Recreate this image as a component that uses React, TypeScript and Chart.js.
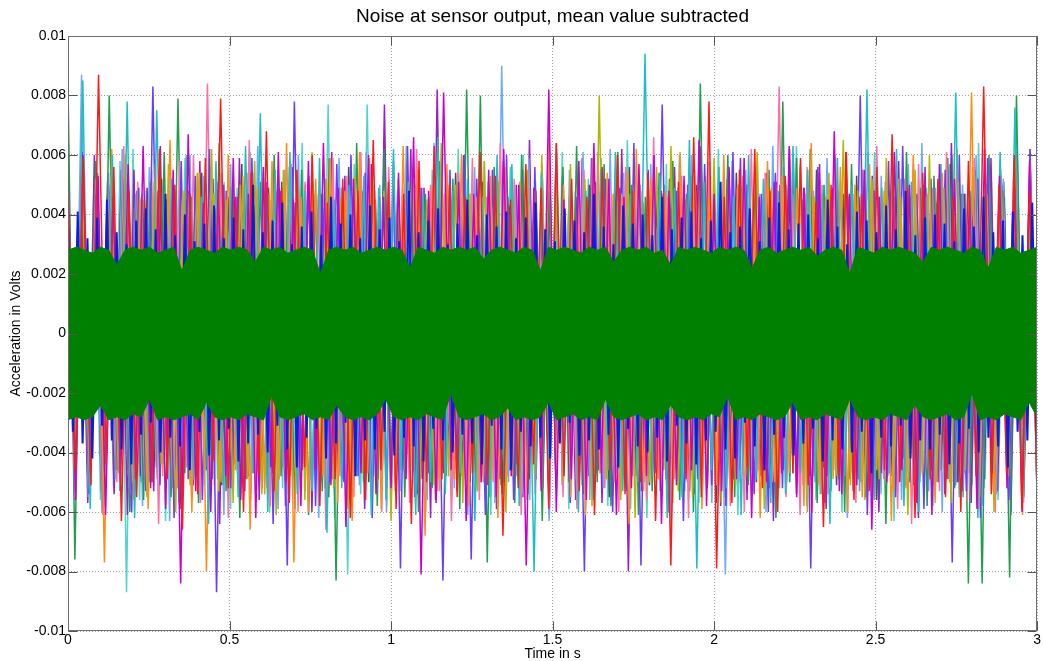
import { useEffect, useRef } from "react";
import { Chart, registerables } from "chart.js";

Chart.register(...registerables);

const TITLE = "Noise at sensor output, mean value subtracted";
const X_LABEL = "Time in s";
const Y_LABEL = "Acceleration in Volts";

const DURATION_S = 3;
const X_TICKS = [0, 0.5, 1, 1.5, 2, 2.5, 3];
const Y_TICKS = [-0.01, -0.008, -0.006, -0.004, -0.002, 0, 0.002, 0.004, 0.006, 0.008, 0.01];

// Noisier sensors: successive sample excursions in millivolts, evenly spaced over the record.
const SENSOR_RED_MV = [
  5.2, -4.6, 5.9, -5.1, 8.7, -4.4, 5.6, -6.3, 4.8, -5.5,
  4.5, -5.0, 6.2, -4.9, 5.0, -6.6, 4.7, -5.4, 5.9, -4.3,
  7.9, -5.2, 4.6, -6.0, 5.4, -4.8, 6.8, -5.3, 4.9, -5.7,
  5.5, -4.5, 6.0, -5.8, 4.4, -4.9, 5.2, -6.2, 4.8, -5.6,
  6.5, -4.6, 5.1, -5.9, 4.7, -6.4, 5.8, -5.0, 6.3, -4.9,
  5.0, -5.5, 4.6, -4.7, 6.1, -5.1, 5.3, -6.8, 4.5, -5.2,
  5.7, -4.4, 4.9, -5.9, 6.4, -4.8, 5.2, -5.3, 4.6, -6.1,
  5.6, -4.6, 6.0, -5.4, 4.8, -5.0, 5.4, -6.3, 4.7, -7.8,
  5.1, -4.9, 6.6, -5.5, 7.8, -7.9, 4.6, -5.7, 5.5, -4.5,
  6.2, -5.2, 4.8, -6.0, 5.3, -4.7, 5.9, -5.1, 4.4, -6.5,
  5.0, -4.8, 6.1, -5.6, 4.7, -5.3, 5.6, -4.6, 6.7, -5.0,
  4.9, -6.2, 5.4, -4.9, 5.2, -5.5, 4.6, -6.0, 5.8, -4.8,
  8.3, -5.4, 5.0, -4.7, 6.0, -5.9, 4.8, -5.2,
];
const SENSOR_MAGENTA_MV = [
  4.9, -5.6, 6.0, -4.7, 5.3, -6.1, 4.6, -5.0, 5.7, -4.9,
  6.3, -5.2, 4.8, -5.9, 5.5, -8.4, 6.7, -5.3, 4.4, -6.0,
  5.1, -4.8, 5.9, -5.6, 4.7, -6.2, 5.6, -4.5, 6.1, -5.0,
  4.5, -5.8, 5.8, -4.6, 6.4, -5.1, 4.9, -6.5, 5.2, -4.7,
  6.0, -5.4, 4.6, -5.2, 5.4, -4.9, 6.6, -8.1, 4.8, -5.7,
  8.1, -4.6, 5.1, -6.3, 4.7, -5.0, 5.5, -5.5, 6.2, -4.8,
  5.0, -7.8, 4.9, -5.3, 8.2, -6.0, 4.5, -4.9, 5.8, -5.6,
  6.4, -4.7, 5.2, -6.1, 4.6, -5.2, 5.7, -4.8, 6.0, -6.4,
  4.8, -5.1, 5.3, -4.6, 6.5, -5.8, 4.7, -5.3, 5.6, -4.9,
  5.9, -6.2, 4.6, -5.0, 5.1, -4.7, 6.3, -5.5, 4.9, -6.0,
  5.4, -4.8, 6.8, -5.4, 4.7, -5.1, 5.5, -6.6, 4.6, -5.0,
  6.1, -4.6, 5.0, -5.7, 4.8, -6.1, 5.7, -4.9, 5.2, -5.3,
  4.7, -5.9, 6.2, -4.7, 5.3, -5.2, 4.9, -6.0, 5.8, -4.8,
];
const SENSOR_CYAN_MV = [
  5.1, -4.8, 8.5, -5.9, 5.4, -4.6, 6.0, -5.3, 7.8, -6.2,
  4.7, -5.0, 7.5, -4.4, 5.2, -5.7, 6.0, -4.9, 4.6, -6.4,
  5.8, -5.1, 4.9, -5.5, 6.3, -4.7, 7.4, -6.0, 5.5, -4.5,
  6.1, -5.4, 4.8, -5.3, 5.9, -6.7, 4.5, -5.2, 5.0, -4.8,
  5.3, -6.1, 4.9, -5.6, 6.2, -4.6, 5.1, -6.1, 4.7, -5.0,
  6.6, -5.4, 4.8, -4.7, 5.2, -6.3, 4.6, -5.5, 6.0, -4.9,
  5.7, -5.8, 4.6, -8.0, 5.4, -5.1, 6.4, -4.7, 5.0, -6.0,
  4.8, -5.6, 5.5, -4.6, 6.1, -5.3, 4.7, -5.0, 9.4, -4.8,
  5.3, -6.2, 4.9, -5.5, 6.5, -7.9, 5.1, -4.6, 5.6, -5.2,
  4.6, -6.1, 6.0, -4.9, 5.2, -5.7, 4.8, -5.4, 6.3, -4.7,
  5.5, -5.0, 4.7, -6.4, 5.9, -4.8, 5.0, -5.3, 8.2, -5.6,
  4.9, -4.7, 6.2, -5.8, 5.1, -6.0, 4.6, -5.1, 5.7, -4.9,
  8.1, -5.5, 4.8, -6.2, 5.4, -4.6, 6.1, -5.2, 7.6, -5.0,
  5.3, -4.8,
];
const SENSOR_ORANGE_MV = [
  4.6, -5.3, 5.8, -4.7, 4.9, -7.7, 6.2, -4.7, 5.1, -5.6,
  4.5, -5.9, 5.7, -4.8, 6.5, -5.2, 4.8, -6.0, 5.4, -8.0,
  4.7, -5.0, 6.0, -4.6, 5.3, -6.6, 4.9, -5.4, 5.8, -4.9,
  6.4, -7.7, 4.6, -6.0, 5.2, -4.8, 5.9, -5.7, 4.8, -6.3,
  6.1, -4.7, 5.0, -5.9, 4.7, -5.1, 6.3, -4.5, 5.5, -6.8,
  4.9, -5.3, 5.7, -4.9, 6.0, -5.8, 4.6, -5.0, 5.3, -6.2,
  5.6, -4.8, 5.1, -5.6, 4.8, -5.2, 6.6, -4.6, 5.0, -5.5,
  4.6, -6.1, 5.9, -4.7, 5.4, -5.0, 4.7, -6.4, 6.2, -5.3,
  5.2, -4.9, 4.8, -5.7, 6.1, -4.6, 5.5, -5.9, 4.6, -5.1,
  6.0, -5.4, 5.0, -4.8, 4.7, -6.2, 5.8, -5.0, 5.3, -4.7,
  4.9, -5.8, 6.4, -5.1, 4.6, -4.9, 5.6, -6.0, 5.0, -5.5,
  5.7, -4.6, 4.8, -6.3, 5.2, -5.2, 6.0, -4.8, 4.7, -5.7,
  5.4, -5.0, 6.2, -4.7, 8.1, -5.9, 4.9, -5.3, 5.5, -4.8,
  4.6, -6.1, 5.8, -5.0,
];
const SENSOR_OLIVE_MV = [
  5.0, -4.5, 5.6, -5.2, 4.4, -5.8, 5.3, -4.7, 6.0, -5.0,
  4.6, -5.5, 5.1, -4.4, 5.7, -6.0, 4.8, -5.1, 5.4, -4.6,
  6.2, -5.3, 4.5, -5.7, 5.0, -4.9, 5.8, -5.4, 4.7, -6.1,
  5.5, -4.8, 4.9, -5.6, 6.1, -4.5, 5.2, -5.2, 4.6, -5.9,
  5.3, -4.7, 5.9, -5.0, 4.8, -6.3, 5.2, -4.6, 5.6, -5.5,
  4.5, -5.1, 6.4, -4.8, 5.0, -5.7, 4.7, -5.3, 5.8, -4.9,
  5.1, -6.0, 4.6, -5.2, 5.5, -4.7, 6.0, -5.4, 4.9, -5.0,
  5.7, -4.5, 5.2, -5.8, 8.0, -4.9, 4.7, -5.6, 5.4, -6.2,
  4.8, -5.0, 5.6, -4.6, 6.3, -5.3, 4.5, -5.5, 5.1, -4.8,
  5.9, -5.7, 4.7, -5.1, 5.3, -4.6, 6.1, -5.9, 4.9, -5.2,
  5.0, -4.7, 5.7, -6.0, 4.6, -5.4, 5.4, -4.8, 6.5, -5.1,
  4.8, -5.6, 5.2, -4.9, 5.9, -5.3, 4.6, -6.1, 5.5, -4.7,
  6.0, -5.0, 4.9, -5.7, 5.1, -4.6, 5.6, -5.5, 4.7, -6.0,
  5.3, -4.8, 5.8, -5.2, 4.6, -5.4,
];
const SENSOR_VIOLET_MV = [
  5.5, -4.8, 6.1, -5.4, 4.7, -5.9, 5.0, -4.6, 5.2, -6.0,
  4.9, -5.3, 8.3, -5.1, 4.5, -6.2, 5.8, -4.9, 5.3, -5.6,
  6.2, -8.7, 5.0, -5.2, 4.6, -5.3, 5.9, -4.8, 5.1, -6.4,
  4.8, -7.8, 7.8, -4.6, 5.2, -5.8, 4.7, -5.0, 5.7, -5.0,
  6.0, -4.8, 5.4, -6.2, 4.6, -5.2, 5.8, -7.9, 6.3, -5.5,
  4.9, -4.7, 5.3, -8.3, 5.5, -4.6, 6.0, -7.6, 4.8, -6.1,
  5.5, -4.9, 6.0, -5.6, 4.7, -5.4, 5.6, -4.8, 6.6, -5.2,
  5.0, -5.7, 4.6, -8.0, 5.9, -4.6, 5.2, -6.0, 4.9, -5.3,
  6.4, -7.8, 5.1, -4.7, 7.7, -5.5, 4.8, -6.3, 5.3, -4.9,
  5.7, -5.1, 4.6, -5.8, 6.1, -4.6, 5.0, -5.4, 4.7, -6.0,
  5.4, -5.2, 6.2, -4.8, 4.9, -7.9, 5.6, -5.7, 4.6, -4.9,
  5.5, -5.3, 8.0, -6.1, 4.8, -4.7, 5.8, -5.5, 6.3, -5.0,
  4.7, -5.9, 5.2, -5.0, 5.5, -7.7, 6.0, -5.3, 4.6, -6.2,
  5.9, -4.7, 5.0, -5.6, 4.8, -5.1, 6.2, -5.4,
];
const SENSOR_PINK_MV = [
  4.8, -5.5, 5.9, -4.6, 5.2, -6.1, 4.6, -5.0, 6.3, -5.4,
  5.1, -4.8, 5.5, -6.4, 4.7, -5.2, 5.8, -4.5, 6.0, -5.7,
  8.4, -5.1, 5.4, -6.2, 4.6, -4.9, 6.5, -5.3, 5.0, -5.8,
  4.7, -4.6, 5.7, -6.0, 5.1, -5.2, 4.5, -6.6, 5.9, -4.8,
  5.3, -5.5, 6.1, -4.7, 4.8, -6.0, 5.6, -5.1, 4.9, -5.7,
  6.2, -4.6, 5.0, -5.3, 4.7, -6.3, 5.4, -4.9, 5.9, -5.6,
  4.6, -5.0, 6.4, -4.8, 5.2, -6.1, 4.8, -5.4, 5.7, -4.7,
  6.0, -5.5, 4.9, -5.9, 5.5, -4.6, 6.1, -5.2, 4.7, -6.0,
  5.6, -4.8, 5.0, -5.6, 6.6, -5.1, 4.6, -4.9, 5.3, -6.2,
  4.8, -5.3, 5.8, -4.7, 5.1, -5.8, 4.9, -6.0, 6.2, -4.6,
  5.4, -5.0, 8.3, -5.5, 4.7, -6.1, 5.6, -4.8, 5.0, -5.4,
  6.0, -4.7, 4.6, -5.7, 5.5, -5.2, 6.3, -4.9, 4.8, -5.9,
  5.2, -6.4, 5.7, -4.6, 4.9, -5.3, 6.1, -5.0, 4.7, -5.6,
  5.9, -4.8, 5.3, -6.0, 4.6, -5.1, 5.8, -4.7, 6.2, -5.5,
];
const SENSOR_SEAGREEN_MV = [
  8.4, -7.6, 5.2, -4.7, 5.8, -5.4, 8.0, -4.6, 5.3, -6.0,
  4.8, -5.6, 5.1, -4.9, 6.1, -5.5, 7.9, -4.7, 4.6, -5.7,
  5.0, -4.9, 6.4, -5.3, 4.8, -6.2, 5.4, -4.7, 5.1, -5.2,
  6.0, -4.8, 4.7, -5.9, 5.5, -6.1, 4.8, -5.3, 5.9, -8.3,
  4.9, -5.6, 6.4, -5.0, 4.6, -5.8, 6.2, -4.9, 4.7, -5.5,
  5.0, -6.0, 4.7, -5.2, 5.8, -4.8, 5.2, -5.9, 8.2, -4.6,
  8.0, -7.7, 5.6, -5.1, 4.6, -5.7, 6.0, -4.8, 5.1, -6.3,
  4.8, -5.1, 5.6, -4.6, 6.3, -5.4, 4.9, -5.0, 5.7, -5.8,
  6.1, -4.7, 5.0, -6.1, 4.6, -5.3, 5.4, -4.9, 5.8, -5.6,
  4.7, -6.0, 8.4, -5.2, 5.3, -4.7, 6.0, -5.5, 4.9, -5.1,
  5.0, -4.8, 5.5, -6.2, 7.8, -5.0, 5.9, -4.6, 6.2, -5.7,
  5.0, -5.3, 4.8, -6.0, 5.7, -4.9, 5.2, -5.4, 4.6, -6.4,
  5.6, -4.7, 6.1, -5.1, 4.9, -5.8, 5.3, -4.6, 5.9, -5.2,
  4.7, -8.4, 5.5, -8.4, 6.0, -5.0, 4.8, -8.2, 8.0, -5.4,
  5.2, -4.9,
];
const SENSOR_SKY_MV = [
  5.1, -4.7, 8.7, -5.5, 4.6, -6.0, 5.4, -4.9, 6.2, -5.2,
  4.7, -5.8, 5.6, -4.5, 5.0, -6.3, 4.8, -5.1, 6.0, -4.8,
  5.3, -5.6, 4.6, -6.1, 5.7, -4.7, 4.9, -5.4, 6.3, -5.0,
  4.5, -5.9, 5.5, -4.6, 6.0, -5.3, 4.8, -6.2, 5.2, -4.9,
  5.9, -5.5, 4.6, -5.1, 6.1, -4.7, 5.0, -6.0, 4.7, -5.3,
  5.8, -4.6, 4.9, -5.6, 6.4, -4.8, 5.3, -5.2, 4.6, -6.1,
  5.6, -4.6, 5.1, -5.7, 9.0, -5.0, 4.7, -5.4, 5.9, -4.8,
  5.2, -6.3, 4.8, -5.1, 5.5, -4.9, 6.1, -5.6, 4.6, -5.2,
  6.2, -4.7, 5.4, -5.9, 4.8, -5.0, 5.7, -4.6, 5.0, -6.4,
  4.9, -5.3, 6.0, -4.8, 5.2, -5.7, 4.6, -8.1, 5.8, -5.0,
  5.5, -4.9, 4.7, -6.0, 6.3, -5.2, 5.0, -4.7, 5.6, -5.8,
  4.8, -5.4, 5.9, -4.6, 5.1, -6.2, 4.7, -5.0, 6.1, -5.5,
  5.3, -4.8, 4.6, -5.6, 5.7, -4.9, 6.4, -5.3, 4.9, -6.0,
  5.6, -5.1, 5.0, -4.7, 6.0, -5.8, 4.8, -5.4, 5.2, -4.6,
  6.1, -5.7, 4.7, -5.0,
];
const SENSOR_GRAY_MV = [
  4.6, -4.2, 5.0, -4.8, 4.3, -5.3, 4.9, -4.4, 5.5, -4.6,
  4.1, -5.0, 4.7, -4.3, 5.2, -4.9, 4.4, -5.6, 4.8, -4.2,
  5.4, -4.7, 4.2, -5.1, 4.6, -4.4, 5.7, -4.8, 4.3, -5.2,
  4.9, -4.5, 5.1, -5.4, 4.4, -4.6, 5.3, -4.3, 4.7, -5.5,
  4.2, -4.9, 5.6, -4.4, 4.8, -5.0, 4.5, -4.7, 5.2, -5.3,
  4.3, -4.5, 5.0, -4.9, 4.6, -5.6, 4.9, -4.2, 5.4, -4.8,
  4.4, -5.1, 5.1, -4.6, 4.7, -5.4, 4.3, -4.4, 5.5, -4.9,
  4.8, -5.2, 4.5, -4.6, 5.3, -5.0, 4.6, -4.3, 5.0, -4.7,
  4.2, -5.5, 4.9, -4.5, 5.6, -4.8, 4.4, -5.1, 4.7, -4.2,
  5.2, -4.6, 4.3, -5.3, 5.0, -4.4, 4.8, -5.7, 4.5, -4.9,
  5.4, -4.3, 4.6, -5.0, 4.2, -5.2, 5.1, -4.6, 4.9, -5.4,
  4.5, -4.8, 5.5, -4.5, 4.4, -5.1, 4.7, -4.9, 5.3, -4.4,
  4.8, -5.6, 4.3, -4.7, 5.2, -4.2, 4.6, -5.3, 5.0, -4.8,
  4.4, -4.5, 5.7, -5.0, 4.7, -4.6, 4.9, -5.2, 4.3, -4.9,
  5.1, -4.4, 4.6, -5.5, 4.8, -4.3,
];
const SENSOR_PURPLE_MV = [
  5.3, -5.0, 4.7, -5.7, 6.0, -4.6, 5.1, -5.4, 4.6, -6.1,
  5.5, -4.8, 4.9, -5.3, 6.3, -4.7, 5.0, -5.9, 4.5, -5.1,
  5.8, -4.6, 5.2, -6.4, 4.8, -5.0, 5.9, -4.9, 5.4, -5.6,
  4.7, -4.7, 4.9, -5.8, 5.6, -4.5, 5.0, -6.0, 4.7, -5.2,
  6.1, -4.8, 5.3, -5.5, 4.6, -5.9, 5.7, -4.9, 7.7, -5.7,
  4.8, -4.6, 6.2, -5.4, 4.9, -6.2, 8.2, -4.7, 4.6, -5.3,
  6.0, -5.0, 5.2, -4.8, 4.7, -5.9, 5.8, -4.6, 5.0, -5.5,
  6.5, -4.9, 4.8, -6.1, 5.4, -5.1, 4.6, -5.6, 5.9, -4.8,
  5.1, -5.7, 4.6, -5.0, 6.2, -8.0, 4.9, -5.3, 5.5, -4.6,
  4.8, -6.0, 5.6, -4.7, 5.0, -5.4, 6.3, -5.1, 4.7, -5.8,
  5.2, -4.9, 5.9, -5.6, 4.6, -4.8, 5.4, -6.3, 5.0, -5.0,
  6.0, -5.2, 4.7, -4.6, 5.7, -5.9, 4.9, -5.3, 6.1, -4.7,
  4.6, -5.5, 5.3, -6.0, 5.1, -4.8, 5.8, -5.1, 4.8, -6.2,
  5.6, -4.6, 4.9, -5.4, 6.4, -5.0, 4.7, -5.7, 5.2, -4.9,
  5.9, -5.3, 4.6, -6.1, 5.4, -4.8, 5.0, -5.6,
];
const SENSOR_AQUA_MV = [
  4.9, -5.4, 6.0, -4.7, 5.3, -5.6, 4.6, -5.2, 5.8, -8.7,
  6.2, -5.6, 4.8, -5.0, 5.5, -6.3, 4.7, -4.8, 5.9, -5.5,
  4.6, -5.1, 5.6, -4.9, 5.1, -5.9, 4.9, -5.3, 6.1, -4.6,
  5.4, -6.0, 4.8, -5.2, 5.6, -4.9, 6.4, -5.7, 4.7, -5.0,
  7.7, -6.2, 4.9, -8.1, 5.7, -5.4, 7.7, -4.8, 4.6, -5.8,
  5.3, -5.1, 6.3, -4.7, 4.8, -6.0, 5.5, -4.9, 5.0, -5.5,
  6.2, -4.6, 4.7, -5.3, 5.8, -6.1, 4.9, -5.0, 5.6, -4.8,
  6.0, -5.6, 4.6, -5.2, 5.4, -4.7, 6.1, -5.9, 4.8, -5.1,
  5.2, -4.9, 5.9, -5.8, 4.7, -5.4, 6.5, -4.6, 5.0, -6.2,
  4.8, -5.3, 5.7, -4.8, 6.0, -5.0, 4.6, -5.7, 5.3, -4.9,
  6.2, -5.5, 4.9, -6.1, 5.1, -4.6, 5.8, -5.2, 4.7, -5.9,
  5.6, -4.8, 6.3, -5.1, 4.8, -5.6, 5.0, -4.7, 5.9, -6.0,
  4.6, -5.2, 5.5, -4.9, 6.1, -5.4, 4.8, -6.3, 5.2, -4.7,
  5.7, -5.0, 4.9, -5.8, 5.3, -4.6, 6.0, -5.5, 4.7, -5.1,
  6.4, -4.9, 5.1, -5.6, 4.6, -6.0, 5.8, -4.8, 5.4, -5.3,
];

// Lower-noise blue sensor.
const SENSOR_BLUE_MV = [
  3.6, -3.3, 4.1, -3.7, 3.2, -4.2, 3.9, -3.1, 4.5, -3.6, 3.4, -3.9, 3.0, -4.4, 3.8, -3.4, 4.2, -3.0, 3.5, -4.0,
  4.7, -3.5, 3.3, -3.8, 4.0, -4.6, 3.1, -3.3, 3.7, -4.1, 4.3, -3.6, 3.2, -3.2, 3.9, -4.3, 3.5, -3.7, 5.0, -3.4,
  3.4, -4.0, 3.8, -3.1, 4.4, -3.9, 3.0, -4.5, 3.6, -3.5, 4.1, -3.2, 3.3, -4.2, 4.6, -3.7, 3.7, -3.0, 4.0, -4.8,
  3.2, -3.6, 4.3, -3.9, 3.5, -3.3, 3.9, -4.1, 3.1, -3.5, 4.8, -3.8, 3.4, -4.3, 3.8, -3.2, 4.2, -3.6, 3.0, -4.0,
  3.7, -3.4, 4.5, -3.7, 3.3, -4.4, 4.0, -3.1, 3.6, -3.9, 4.1, -4.6, 3.2, -3.3, 3.9, -3.8, 4.4, -3.5, 3.5, -4.2,
  3.1, -3.7, 4.2, -3.0, 3.8, -4.1, 3.4, -3.6, 4.7, -3.9, 3.6, -3.4, 3.0, -4.5, 4.3, -3.2, 3.7, -3.8, 4.0, -4.0,
  3.3, -3.5, 4.6, -4.3, 3.5, -3.1, 3.9, -3.7, 4.1, -4.4, 3.2, -3.6, 3.8, -3.3, 5.1, -3.9, 3.4, -4.2, 3.6, -3.0,
  4.2, -3.8, 3.1, -4.6, 3.9, -3.4, 4.4, -3.5, 3.5, -4.1, 3.7, -3.7, 4.0, -3.2, 3.2, -4.3, 4.5, -3.6, 3.6, -3.9,
  3.0, -4.0, 4.1, -3.3, 3.8, -4.7, 3.4, -3.5, 4.3, -3.8, 3.5, -3.1, 4.8, -4.2, 3.3, -3.6, 3.9, -3.9, 4.0, -3.4,
  3.7, -4.4, 3.1, -3.7, 4.2, -3.2, 3.6, -4.0, 4.6, -3.5, 3.4, -3.8, 3.8, -4.5, 4.1, -3.3, 3.3, -3.6, 4.4, -3.9,
];

// Quietest (green) sensor: upper and lower envelope of its dense trace.
const SENSOR_GREEN_UPPER_MV = [
  2.8, 2.9, 2.8, 2.7, 2.9, 2.8, 2.3, 2.8, 2.9, 2.8, 2.9, 2.7, 2.8, 2.9, 2.1, 2.8, 2.9, 2.8, 2.7, 2.9,
  2.8, 2.9, 2.8, 2.4, 2.9, 2.8, 2.9, 2.7, 2.8, 2.9, 2.8, 2.0, 2.8, 2.9, 2.8, 2.9, 2.7, 2.8, 2.9, 2.8,
  2.9, 2.8, 2.2, 2.9, 2.8, 2.7, 2.9, 2.8, 2.9, 2.8, 2.9, 2.5, 2.8, 2.9, 2.8, 2.7, 2.9, 2.8, 2.1, 2.9,
  2.8, 2.9, 2.8, 2.7, 2.9, 2.8, 2.9, 2.4, 2.8, 2.9, 2.8, 2.9, 2.7, 2.8, 2.3, 2.9, 2.8, 2.9, 2.8, 2.7,
  2.9, 2.8, 2.9, 2.8, 2.2, 2.8, 2.9, 2.7, 2.8, 2.9, 2.8, 2.9, 2.6, 2.8, 2.9, 2.8, 2.0, 2.9, 2.8, 2.7,
  2.9, 2.8, 2.9, 2.8, 2.7, 2.4, 2.9, 2.8, 2.9, 2.8, 2.7, 2.9, 2.8, 2.2, 2.9, 2.8, 2.9, 2.7, 2.8, 2.9,
];
const SENSOR_GREEN_LOWER_MV = [
  -2.9, -2.8, -2.9, -2.8, -2.4, -2.9, -2.8, -2.9, -2.7, -2.8, -2.2, -2.9, -2.8, -2.9, -2.8, -2.7, -2.9, -2.3, -2.8, -2.9,
  -2.8, -2.9, -2.7, -2.8, -2.9, -2.1, -2.8, -2.9, -2.8, -2.7, -2.9, -2.8, -2.9, -2.4, -2.8, -2.9, -2.8, -2.9, -2.7, -2.2,
  -2.8, -2.9, -2.8, -2.9, -2.7, -2.8, -2.9, -2.0, -2.8, -2.9, -2.8, -2.7, -2.9, -2.8, -2.5, -2.9, -2.8, -2.9, -2.8, -2.3,
  -2.9, -2.8, -2.7, -2.9, -2.8, -2.9, -2.2, -2.8, -2.9, -2.8, -2.7, -2.9, -2.8, -2.9, -2.4, -2.8, -2.9, -2.8, -2.9, -2.7,
  -2.8, -2.1, -2.9, -2.8, -2.9, -2.7, -2.8, -2.9, -2.8, -2.3, -2.9, -2.8, -2.9, -2.7, -2.8, -2.9, -2.2, -2.8, -2.9, -2.8,
  -2.9, -2.7, -2.8, -2.9, -2.4, -2.8, -2.9, -2.8, -2.7, -2.9, -2.8, -2.0, -2.9, -2.8, -2.9, -2.7, -2.8, -2.9, -2.3, -2.8,
];

const GREEN = "#008000";
const BLUE = "#0a1ee0";

const NOISY_SENSORS = [
  { name: "red", color: "#ff1a1a", mv: SENSOR_RED_MV },
  { name: "magenta", color: "#cc00cc", mv: SENSOR_MAGENTA_MV },
  { name: "cyan", color: "#1fbfbf", mv: SENSOR_CYAN_MV },
  { name: "orange", color: "#ff8c1a", mv: SENSOR_ORANGE_MV },
  { name: "olive", color: "#b5b500", mv: SENSOR_OLIVE_MV },
  { name: "violet", color: "#6a3cff", mv: SENSOR_VIOLET_MV },
  { name: "pink", color: "#ff6fa8", mv: SENSOR_PINK_MV },
  { name: "seagreen", color: "#1f9e4f", mv: SENSOR_SEAGREEN_MV },
  { name: "sky", color: "#6fa8ff", mv: SENSOR_SKY_MV },
  { name: "gray", color: "#4d4d4d", mv: SENSOR_GRAY_MV },
  { name: "purple", color: "#9b1fc4", mv: SENSOR_PURPLE_MV },
  { name: "aqua", color: "#4fd6c6", mv: SENSOR_AQUA_MV },
];

const FONT_FAMILY = "'Liberation Sans', Arial, Helvetica, sans-serif";

// Samples are evenly spaced over the record; millivolts -> volts.
function toPoints(mv: number[]) {
  return mv.map((v, i) => ({ x: (DURATION_S * i) / (mv.length - 1), y: v / 1000 }));
}

// Box around the plot with short inward ticks on all four sides.
const axesFrame = {
  id: "axesFrame",
  afterDraw(chart: any) {
    const { ctx, chartArea } = chart;
    const xs = chart.scales.x;
    const ys = chart.scales.y;
    const l = Math.round(chartArea.left) + 0.5;
    const t = Math.round(chartArea.top) + 0.5;
    const r = Math.round(chartArea.right) - 0.5;
    const b = Math.round(chartArea.bottom) - 0.5;
    const len = 9;
    ctx.save();
    ctx.lineWidth = 1;
    ctx.strokeStyle = "#555555";
    ctx.beginPath();
    for (const v of X_TICKS) {
      const px = Math.round(xs.getPixelForValue(v)) + 0.5;
      ctx.moveTo(px, b);
      ctx.lineTo(px, b - len);
      ctx.moveTo(px, t);
      ctx.lineTo(px, t + len);
    }
    for (const v of Y_TICKS) {
      const py = Math.round(ys.getPixelForValue(v)) + 0.5;
      ctx.moveTo(l, py);
      ctx.lineTo(l + len, py);
      ctx.moveTo(r, py);
      ctx.lineTo(r - len, py);
    }
    ctx.stroke();
    ctx.strokeStyle = "#6e6e6e";
    ctx.strokeRect(l, t, r - l, b - t);
    ctx.restore();
  },
};

export default function App() {
  const canvasRef = useRef<HTMLCanvasElement | null>(null);

  useEffect(() => {
    const canvas = canvasRef.current;
    if (!canvas) return;

    const lineBase = {
      pointRadius: 0,
      pointHoverRadius: 0,
      tension: 0,
      borderJoinStyle: "bevel" as const,
      normalized: true,
    };

    const datasets: any[] = [
      {
        ...lineBase,
        label: "green sensor (upper)",
        data: toPoints(SENSOR_GREEN_UPPER_MV),
        borderColor: GREEN,
        backgroundColor: GREEN,
        borderWidth: 1,
        fill: "+1",
        order: 0,
      },
      {
        ...lineBase,
        label: "green sensor (lower)",
        data: toPoints(SENSOR_GREEN_LOWER_MV),
        borderColor: GREEN,
        backgroundColor: GREEN,
        borderWidth: 1,
        fill: false,
        order: 0,
      },
      {
        ...lineBase,
        label: "blue sensor",
        data: toPoints(SENSOR_BLUE_MV),
        borderColor: BLUE,
        borderWidth: 2,
        fill: false,
        order: 1,
      },
      ...NOISY_SENSORS.map((s, k) => ({
        ...lineBase,
        label: s.name + " sensor",
        data: toPoints(s.mv),
        borderColor: s.color,
        borderWidth: 1.5,
        fill: false,
        order: 2 + k,
      })),
    ];

    Chart.defaults.font.family = FONT_FAMILY;
    Chart.defaults.color = "#000";

    const chart = new Chart(canvas, {
      type: "line",
      data: { datasets },
      plugins: [axesFrame],
      options: {
        responsive: false,
        animation: false,
        events: [],
        layout: { padding: { left: 8, right: 3, top: 0, bottom: 0 } },
        plugins: {
          legend: { display: false },
          tooltip: { enabled: false },
          title: {
            display: true,
            text: TITLE,
            fullSize: false,
            color: "#000",
            font: { size: 19, weight: "normal", family: FONT_FAMILY, lineHeight: 1.2 },
            padding: { top: 5, bottom: 8.2 },
          },
        },
        scales: {
          x: {
            type: "linear",
            min: 0,
            max: DURATION_S,
            afterBuildTicks: (scale: any) => {
              scale.ticks = X_TICKS.map((v) => ({ value: v }));
            },
            afterFit: (scale: any) => {
              scale.height = 30;
            },
            ticks: {
              autoSkip: false,
              maxRotation: 0,
              padding: 2,
              color: "#000",
              font: { size: 14, lineHeight: 1, family: FONT_FAMILY },
              callback: (v: any) => String(v),
            },
            grid: { color: "rgba(120,120,120,0.7)", lineWidth: 1, drawTicks: false },
            border: { display: false, dash: [1, 2] },
            title: {
              display: true,
              text: X_LABEL,
              color: "#000",
              font: { size: 14, lineHeight: 1, family: FONT_FAMILY },
              padding: { top: 2, bottom: 0 },
            },
          },
          y: {
            type: "linear",
            min: -0.01,
            max: 0.01,
            afterBuildTicks: (scale: any) => {
              scale.ticks = Y_TICKS.map((v) => ({ value: v }));
            },
            afterFit: (scale: any) => {
              scale.width = 60;
            },
            ticks: {
              autoSkip: false,
              padding: 2,
              color: "#000",
              font: { size: 14, family: FONT_FAMILY },
              callback: (v: any) => String(v),
            },
            grid: { color: "rgba(120,120,120,0.7)", lineWidth: 1, drawTicks: false },
            border: { display: false, dash: [1, 2] },
            title: {
              display: true,
              text: Y_LABEL,
              color: "#000",
              font: { size: 14, family: FONT_FAMILY },
              padding: { top: 0, bottom: 0 },
            },
          },
        },
      },
    });

    return () => chart.destroy();
  }, []);

  return (
    <div
      style={{
        position: "fixed",
        left: 0,
        top: 0,
        width: 1043,
        height: 661,
        background: "#ffffff",
      }}
    >
      <canvas ref={canvasRef} width={1043} height={661} style={{ display: "block" }} />
    </div>
  );
}
